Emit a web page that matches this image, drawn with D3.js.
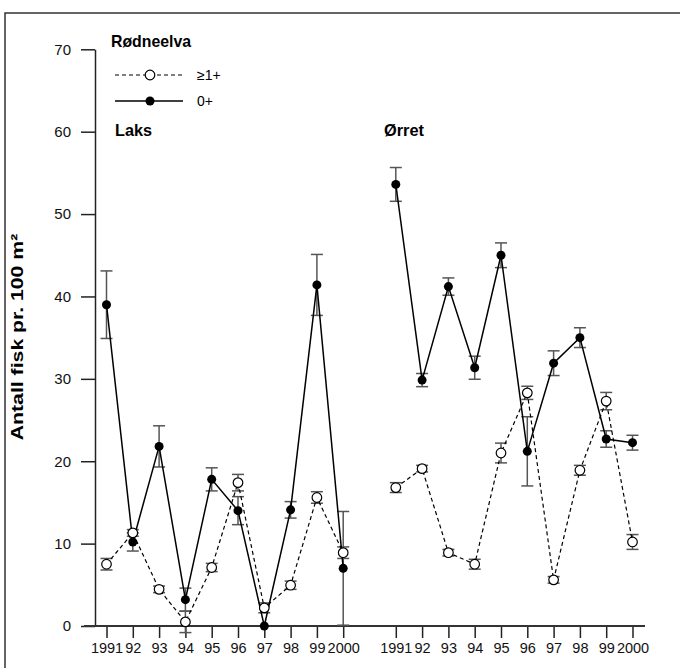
<!DOCTYPE html>
<html>
<head>
<meta charset="utf-8">
<script src="https://d3js.org/d3.v7.min.js"></script>
<style>
  body { margin: 0; background: #fff; }
  text { font-family: "Liberation Sans", Arial, sans-serif; }
</style>
</head>
<body>
<div id="chart"></div>
<script>
// Data
const years = ["1991", "92", "93", "94", "95", "96", "97", "98", "99", "2000"]
const yTicks = [0, 10, 20, 30, 40, 50, 60, 70]

const laksOpen = [7.5, 11.3, 4.45, 0.5, 7.1, 17.4, 2.2, 4.95, 15.6, 8.9]
const laksOpenErr = [0.7, 0.4, 0.4, 1.3, 0.5, 1.0, 0.6, 0.5, 0.7, 0.7]
const laksFilled = [39.0, 10.2, 21.8, 3.2, 17.8, 14.0, 0, 14.1, 41.4, 7.0]
const laksFilledErr = [4.1, 1.1, 2.5, 1.4, 1.4, 1.7, 0, 1.0, 3.7, 6.9]

const orretOpen = [16.8, 19.1, 8.9, 7.5, 21.0, 28.3, 5.6, 18.9, 27.3, 10.2]
const orretOpenErr = [0.6, 0.4, 0.4, 0.6, 1.2, 0.8, 0.4, 0.6, 1.05, 0.9]
const orretFilled = [53.6, 29.85, 41.2, 31.35, 45.0, 21.2, 31.9, 35.0, 22.7, 22.25]
const orretFilledErr = [2.05, 0.8, 1.05, 1.4, 1.5, 4.2, 1.5, 1.2, 1.0, 0.9]

function draw(el) {
  const width = 680, height = 668

  const svg = d3.select(el)
    .append("svg")
    .attr("width", width)
    .attr("height", height)

  // frame (runs off the right and bottom edges)
  svg.append("rect")
    .attr("x", 5).attr("y", 13)
    .attr("width", 700).attr("height", 700)
    .attr("fill", "none")
    .attr("stroke", "#333")
    .attr("stroke-width", 1.5)

  // Scales: left panel index 0..9, right panel 11..20
  const xScale = d3.scaleLinear().domain([0, 20]).range([106.5, 632.5])
  const yScale = d3.scaleLinear().domain([0, 70]).range([626, 49.3])

  // Y axis
  const yAxis = svg.append("g")
    .attr("transform", "translate(95,0)")
    .call(d3.axisLeft(yScale).tickValues(yTicks).tickSize(14).tickSizeOuter(0).tickPadding(10))
  yAxis.select(".domain").attr("stroke", "#222").attr("stroke-width", 1.5)
  yAxis.selectAll(".tick line").attr("stroke", "#222").attr("stroke-width", 1.5)
  yAxis.selectAll(".tick text")
    .attr("font-size", 15).attr("fill", "#111")
    .style("font-family", "Liberation Sans, Arial, sans-serif")

  // X axis
  const idx = d3.range(10).concat(d3.range(11, 21))
  const xAxis = svg.append("g")
    .attr("transform", "translate(0,626)")
    .call(d3.axisBottom(xScale).tickValues(idx)
      .tickFormat(d => years[d > 10 ? d - 11 : d])
      .tickSize(12).tickSizeOuter(0).tickPadding(5))
  xAxis.select(".domain").remove()
  xAxis.append("line")
    .attr("x1", 84).attr("x2", 645)
    .attr("stroke", "#333").attr("stroke-width", 2)
  xAxis.selectAll(".tick line").attr("stroke", "#222").attr("stroke-width", 1.5)
  xAxis.selectAll(".tick text")
    .attr("font-size", 14.5).attr("fill", "#111")
    .style("font-family", "Liberation Sans, Arial, sans-serif")

  // Y axis title (drawn stretched along its length, as in the original)
  svg.append("text")
    .attr("transform", "translate(23,337) rotate(-90) scale(1.25,1)")
    .attr("text-anchor", "middle")
    .attr("font-size", 17)
    .attr("font-weight", "bold")
    .text("Antall fisk pr. 100 m²")

  const panels = [
    { offset: 0, open: laksOpen, openErr: laksOpenErr, filled: laksFilled, filledErr: laksFilledErr },
    { offset: 11, open: orretOpen, openErr: orretOpenErr, filled: orretFilled, filledErr: orretFilledErr }
  ]

  const line = d3.line()
    .x(d => xScale(d.i))
    .y(d => yScale(d.v))

  function series(vals, errs, offset) {
    return vals.map((v, k) => ({ i: k + offset, v: v, e: errs[k] }))
  }

  function errorBars(g, data) {
    const eb = g.append("g").attr("stroke", "#555").attr("stroke-width", 1.5)
    data.filter(d => d.e > 0).forEach(d => {
      const x = xScale(d.i)
      eb.append("line")
        .attr("x1", x).attr("x2", x)
        .attr("y1", yScale(d.v + d.e)).attr("y2", yScale(d.v - d.e))
      eb.append("line")
        .attr("x1", x - 6).attr("x2", x + 6)
        .attr("y1", yScale(d.v + d.e)).attr("y2", yScale(d.v + d.e))
      eb.append("line")
        .attr("x1", x - 6).attr("x2", x + 6)
        .attr("y1", yScale(d.v - d.e)).attr("y2", yScale(d.v - d.e))
    })
  }

  panels.forEach(p => {
    const g = svg.append("g")
    const filled = series(p.filled, p.filledErr, p.offset)
    const open = series(p.open, p.openErr, p.offset)

    errorBars(g, filled)
    errorBars(g, open)

    g.append("path")
      .datum(filled)
      .attr("d", line)
      .attr("fill", "none")
      .attr("stroke", "#000")
      .attr("stroke-width", 1.5)

    g.append("path")
      .datum(open)
      .attr("d", line)
      .attr("fill", "none")
      .attr("stroke", "#000")
      .attr("stroke-width", 1.2)
      .attr("stroke-dasharray", "4,3")

    g.selectAll("circle.filled")
      .data(filled)
      .join("circle")
      .attr("class", "filled")
      .attr("cx", d => xScale(d.i))
      .attr("cy", d => yScale(d.v))
      .attr("r", 4.5)
      .attr("fill", "#000")

    g.selectAll("circle.open")
      .data(open)
      .join("circle")
      .attr("class", "open")
      .attr("cx", d => xScale(d.i))
      .attr("cy", d => yScale(d.v))
      .attr("r", 4.8)
      .attr("fill", "#fff")
      .attr("stroke", "#000")
      .attr("stroke-width", 1.2)
  })

  // Titles
  svg.append("text")
    .attr("x", 111).attr("y", 47)
    .attr("font-size", 17).attr("font-weight", "bold")
    .attr("textLength", 80).attr("lengthAdjust", "spacingAndGlyphs")
    .text("Rødneelva")
  svg.append("text")
    .attr("x", 115).attr("y", 136)
    .attr("font-size", 17).attr("font-weight", "bold")
    .attr("textLength", 37).attr("lengthAdjust", "spacingAndGlyphs")
    .text("Laks")
  svg.append("text")
    .attr("x", 384).attr("y", 136)
    .attr("font-size", 17).attr("font-weight", "bold")
    .attr("textLength", 40).attr("lengthAdjust", "spacingAndGlyphs")
    .text("Ørret")

  // Legend
  const legend = svg.append("g")
  const items = [
    { y: 75, label: "≥1+", dash: "4,3", fill: "#fff" },
    { y: 101, label: "0+", dash: null, fill: "#000" }
  ]
  items.forEach(it => {
    legend.append("line")
      .attr("x1", 115).attr("x2", 183)
      .attr("y1", it.y).attr("y2", it.y)
      .attr("stroke", "#000")
      .attr("stroke-width", it.dash ? 1.2 : 1.5)
      .attr("stroke-dasharray", it.dash)
    legend.append("circle")
      .attr("cx", 150).attr("cy", it.y)
      .attr("r", it.dash ? 4.8 : 4.5)
      .attr("fill", it.fill)
      .attr("stroke", it.dash ? "#000" : "none")
      .attr("stroke-width", 1.2)
    legend.append("text")
      .attr("x", 197).attr("y", it.y)
      .attr("dy", "0.35em")
      .attr("font-size", 14)
      .text(it.label)
  })
}

draw("#chart")
</script>
</body>
</html>
